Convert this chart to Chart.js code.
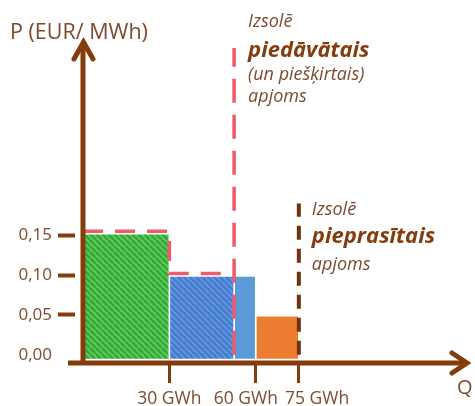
<!DOCTYPE html>
<html>
<head>
<meta charset="utf-8">
<script src="https://cdn.jsdelivr.net/npm/chart.js@4/dist/chart.umd.min.js"></script>
<style>
html,body{margin:0;padding:0;background:#fff;}
canvas{display:block;}
</style>
</head>
<body>
<canvas id="c" width="475" height="406"></canvas>
<script>
// ---- data ----
const BAR_START = [0, 30, 52.5, 60];          // GWh
const BAR_END   = [30, 52.5, 60, 75];         // GWh
const BAR_PRICE = [0.152, 0.099, 0.099, 0.049]; // EUR/MWh
const OFFER_STEP_Q = [0, 30, 30, 52.5];
const OFFER_STEP_P = [0.155, 0.155, 0.102, 0.102];
const OFFER_Q = 52.5;
const OFFER_LINE_P = [0, 0.385];
const DEMAND_Q = 75;
const DEMAND_LINE_P = [0, 0.19];
const X_TICKS = [30, 60, 75];
const Y_TICKS = [0, 0.05, 0.10, 0.15];
const X_UNIT = 'GWh';
const Y_TITLE = 'P (EUR/ MWh)';
const X_TITLE = 'Q';
const OFFER_TEXT = ['Izsolē', 'piedāvātais', '(un piešķirtais)', 'apjoms'];
const DEMAND_TEXT = ['Izsolē', 'pieprasītais', 'apjoms'];

// ---- style ----
const BROWN = '#843C0C';
const TEXT = '#7b4b30';
const RED = '#ef5b68';
const DARK = '#6e320c';
const FONT = '"Open Sans", Lato, sans-serif';
const X_MIN = 0, X_MAX = 131, Y_MIN = -0.009, Y_MAX = 0.39, BAR_BASE = -0.005;

function hatch(base, stripe) {
  const s = 6, c = document.createElement('canvas');
  c.width = s; c.height = s;
  const g = c.getContext('2d');
  g.fillStyle = base; g.fillRect(0, 0, s, s);
  g.strokeStyle = stripe; g.lineWidth = 2.2;
  for (let k = -1; k <= 1; k++) {
    g.beginPath(); g.moveTo(k * s, 0); g.lineTo(k * s + s, s); g.stroke();
  }
  return g.createPattern(c, 'repeat');
}
const ctx = document.getElementById('c').getContext('2d');
const BAR_COLORS = [hatch('#5cc957', '#2fa43a'), hatch('#4677cc', '#5f97dc'), '#5b9bd5', '#ed7d31'];

const barSets = BAR_START.map((s, i) => ({
  data: [{x: s, y: BAR_BASE}, {x: s, y: BAR_PRICE[i]}, {x: BAR_END[i], y: BAR_PRICE[i]}, {x: BAR_END[i], y: BAR_BASE}],
  backgroundColor: BAR_COLORS[i],
  borderColor: '#ffffff',
  borderWidth: 1.5,
  fill: {value: BAR_BASE},
  pointRadius: 0, tension: 0, order: 10
}));

const datasets = [
  {data: OFFER_STEP_Q.map((q, i) => ({x: q, y: OFFER_STEP_P[i]})),
   borderColor: RED, borderWidth: 3.5, borderDash: [20, 12], fill: false, pointRadius: 0, tension: 0, order: 1},
  {data: OFFER_LINE_P.map(p => ({x: OFFER_Q, y: p})),
   borderColor: RED, borderWidth: 3.5, borderDash: [24, 12], fill: false, pointRadius: 0, tension: 0, order: 1},
  {data: DEMAND_LINE_P.map(p => ({x: DEMAND_Q, y: p})),
   borderColor: DARK, borderWidth: 4, borderDash: [14, 9], fill: false, pointRadius: 0, tension: 0, order: 0},
  ...barSets
];

const decor = {
  id: 'decor',
  afterDatasetsDraw(chart) {
    const c = chart.ctx, a = chart.chartArea;
    const xs = chart.scales.x;
    const ox = a.left, oy = a.bottom + 1;
    c.save();
    c.strokeStyle = BROWN; c.lineWidth = 5; c.lineCap = 'butt'; c.lineJoin = 'miter';
    // axes
    c.beginPath(); c.moveTo(ox, oy + 2); c.lineTo(ox, a.top - 1); c.stroke();
    c.beginPath(); c.moveTo(ox - 15, oy); c.lineTo(a.right + 6, oy); c.stroke();
    // arrows
    c.lineCap = 'round';
    c.beginPath(); c.moveTo(ox - 9, a.top + 15); c.lineTo(ox + 0.5, a.top - 2); c.lineTo(ox + 10, a.top + 15); c.stroke();
    c.beginPath(); c.moveTo(a.right - 8, oy - 10); c.lineTo(a.right + 7, oy); c.lineTo(a.right - 8, oy + 10); c.stroke();
    // x tick labels, pushed apart where they would collide
    c.font = '17.5px ' + FONT; c.fillStyle = TEXT; c.textAlign = 'center'; c.textBaseline = 'alphabetic';
    const labs = X_TICKS.map(v => {
      const t = v + ' ' + X_UNIT;
      return {t, x: xs.getPixelForValue(v), w: c.measureText(t).width};
    });
    for (let i = 1; i < labs.length; i++) {
      const need = labs[i - 1].w / 2 + labs[i].w / 2 + 7 - (labs[i].x - labs[i - 1].x);
      if (need > 0) { labs[i - 1].x -= need * 0.35; labs[i].x += need * 0.65; }
    }
    labs.forEach(l => c.fillText(l.t, l.x, 404));
    // texts
    c.textAlign = 'left';
    c.fillStyle = TEXT;
    c.font = '21.5px ' + FONT;
    c.fillText(Y_TITLE, 10, 39);
    c.font = '20px ' + FONT;
    c.fillText(X_TITLE, 457, 394);
    const tx1 = xs.getPixelForValue(OFFER_Q) + 14;
    const lines1 = [[OFFER_TEXT[0], 'italic 18px', 27, TEXT], [OFFER_TEXT[1], 'italic bold 22px', 57, BROWN],
                    [OFFER_TEXT[2], 'italic 18px', 80, TEXT], [OFFER_TEXT[3], 'italic 18px', 102, TEXT]];
    lines1.forEach(l => { c.font = l[1] + ' ' + FONT; c.fillStyle = l[3]; c.fillText(l[0], tx1, l[2]); });
    const tx2 = xs.getPixelForValue(DEMAND_Q) + 13;
    const lines2 = [[DEMAND_TEXT[0], 'italic 18px', 215, TEXT], [DEMAND_TEXT[1], 'italic bold 22px', 243, BROWN],
                    [DEMAND_TEXT[2], 'italic 18px', 270, TEXT]];
    lines2.forEach(l => { c.font = l[1] + ' ' + FONT; c.fillStyle = l[3]; c.fillText(l[0], tx2, l[2]); });
    c.restore();
  }
};

new Chart(ctx, {
  type: 'line',
  data: {datasets},
  plugins: [decor],
  options: {
    responsive: false, animation: false, devicePixelRatio: 1,
    layout: {padding: {left: 0, right: 15, top: 44, bottom: 0}},
    plugins: {legend: {display: false}, tooltip: {enabled: false}},
    scales: {
      x: {
        type: 'linear', min: X_MIN, max: X_MAX,
        afterFit: s => { s.height = 44; },
        afterBuildTicks: s => { s.ticks = X_TICKS.map(v => ({value: v})); },
        border: {display: false},
        grid: {drawOnChartArea: false, tickLength: 21, tickColor: BROWN, tickWidth: 3},
        ticks: {display: false, autoSkip: false}
      },
      y: {
        type: 'linear', min: Y_MIN, max: Y_MAX,
        afterFit: s => { s.width = 83; },
        afterBuildTicks: s => { s.ticks = Y_TICKS.map(v => ({value: v})); },
        border: {display: false},
        grid: {drawOnChartArea: false, tickLength: 25, tickBorderDash: [17, 40], tickWidth: 4,
               tickColor: c => (c.tick && c.tick.value === 0) ? 'rgba(0,0,0,0)' : BROWN},
        ticks: {callback: v => v.toFixed(2).replace('.', ','), color: TEXT, font: {family: FONT, size: 17}, padding: 6, autoSkip: false}
      }
    }
  }
});
</script>
</body>
</html>
